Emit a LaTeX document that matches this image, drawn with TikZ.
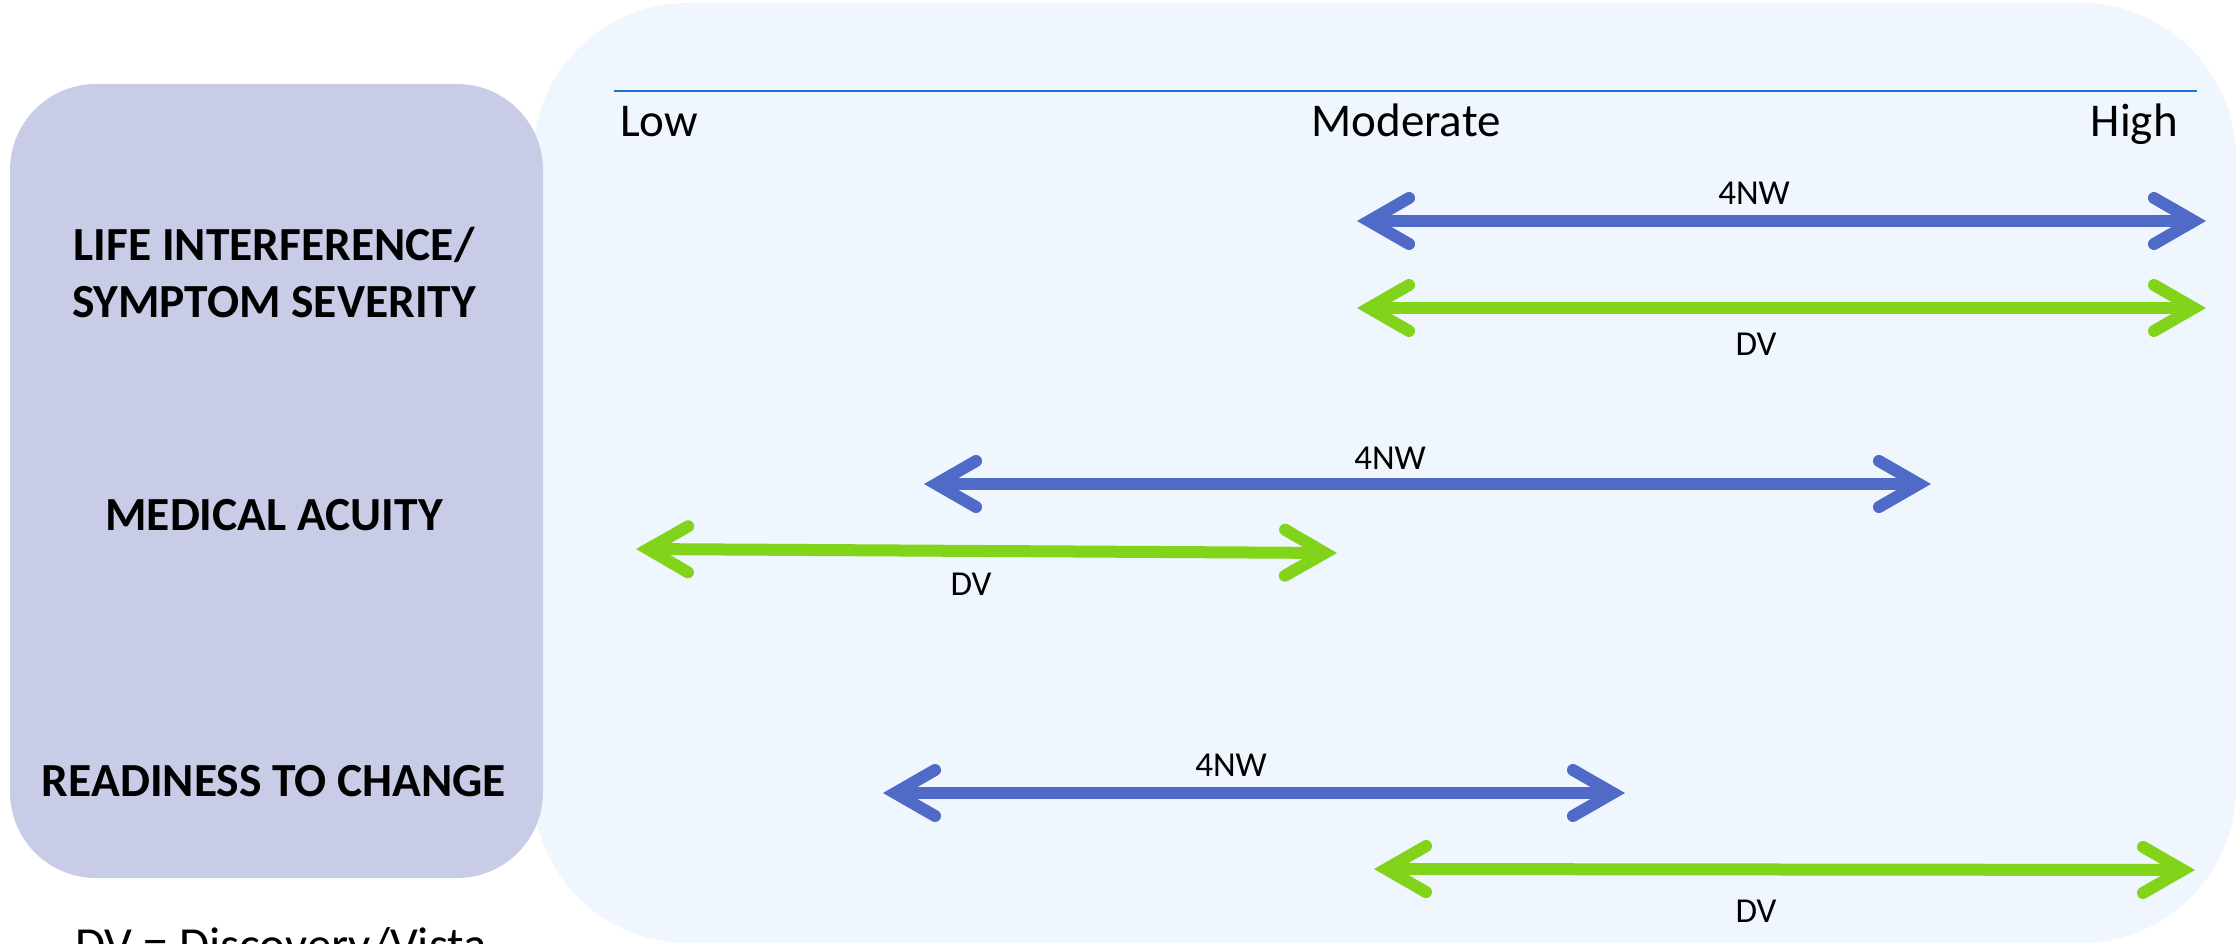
\documentclass[tikz,border=0pt]{standalone}
\usepackage{fontspec}
\setmainfont{Carlito}
\usetikzlibrary{arrows.meta}
\definecolor{leftbg}{RGB}{200,204,230}
\definecolor{rightbg}{RGB}{239,246,253}
\definecolor{axisblue}{RGB}{22,120,212}
\definecolor{nwblue}{RGB}{80,106,200}
\definecolor{dvgreen}{RGB}{130,212,26}
\tikzset{
  cat/.style={font=\fontsize{47.5}{57}\selectfont\bfseries, anchor=base, inner sep=0pt},
  scalelbl/.style={font=\fontsize{47}{56}\selectfont, anchor=base, inner sep=0pt},
  barlbl/.style={font=\fontsize{35}{42}\selectfont, anchor=base, inner sep=0pt},
  legend/.style={font=\fontsize{49}{58}\selectfont, anchor=base west, inner sep=0pt},
  mybarb/.tip={Straight Barb[length=40pt,width=46pt,line cap=round,line join=miter]},
  span/.style={line width=12pt, {mybarb}-{mybarb}},
  nwspan/.style={span, draw=nwblue},
  dvspan/.style={span, draw=dvgreen},
}
\begin{document}
\begin{tikzpicture}[x=1pt,y=-1pt]
  \path[use as bounding box] (0,0) rectangle (2239,944);
  \clip (0,0) rectangle (2239,944);
  % panels
  \fill[rightbg, rounded corners=155pt] (533,3) rectangle (2236,943);
  \fill[leftbg, rounded corners=86pt] (10,84) rectangle (543,878);
  % scale axis
  \coordinate (axL) at (614,91);
  \coordinate (axR) at (2197,91);
  \draw[axisblue, line width=2.7pt] (axL) -- (axR);
  \node[scalelbl, anchor=base west] (low) at (620,137) {Low};
  \node[scalelbl] (mod) at (1406,137) {Moderate};
  \node[scalelbl, anchor=base east] (high) at (2178,137) {High};
  % categories
  \node[cat] (c1a) at (274,261) {LIFE INTERFERENCE/};
  \node[cat] (c1b) at (274,317) {SYMPTOM SEVERITY};
  \node[cat] (c2) at (274,530) {MEDICAL ACUITY};
  \node[cat] (c3) at (274,796) {READINESS TO CHANGE};
  % row 1
  \coordinate (r1bL) at (1357,221); \coordinate (r1bR) at (2206,221);
  \coordinate (r1gL) at (1357,308); \coordinate (r1gR) at (2206,308);
  \draw[nwspan] (r1bL) -- (r1bR);
  \draw[dvspan] (r1gL) -- (r1gR);
  \node[barlbl] (l1n) at (1754,205) {4NW};
  \node[barlbl] (l1d) at (1756,355) {DV};
  % row 2
  \coordinate (r2bL) at (924,484); \coordinate (r2bR) at (1931,484);
  \coordinate (r2gL) at (636,549); \coordinate (r2gR) at (1337,553);
  \draw[nwspan] (r2bL) -- (r2bR);
  \draw[dvspan] (r2gL) -- (r2gR);
  \node[barlbl] (l2n) at (1390,469) {4NW};
  \node[barlbl] (l2d) at (971,595) {DV};
  % row 3
  \coordinate (r3bL) at (883,793); \coordinate (r3bR) at (1625,793);
  \coordinate (r3gL) at (1374,869); \coordinate (r3gR) at (2195,870);
  \draw[nwspan] (r3bL) -- (r3bR);
  \draw[dvspan] (r3gL) -- (r3gR);
  \node[barlbl] (l3n) at (1231,776) {4NW};
  \node[barlbl] (l3d) at (1756,922) {DV};
  % legend
  \node[legend] (leg) at (75,961) {DV = Discovery/Vista};
\end{tikzpicture}
\end{document}
